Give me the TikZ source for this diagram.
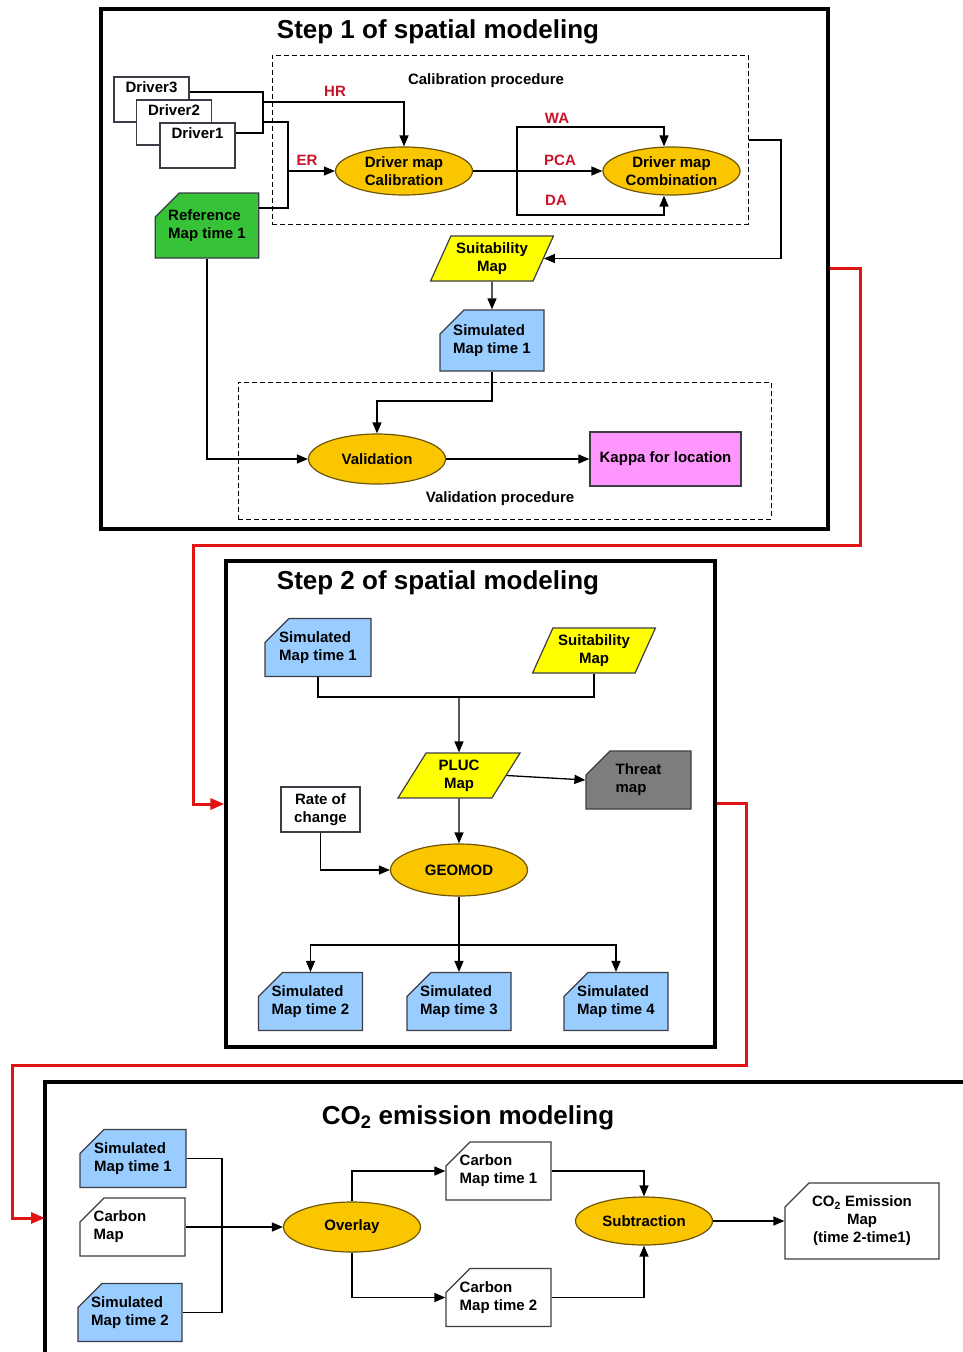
\documentclass[tikz,border=0pt]{standalone}
\usepackage{fontspec}
\setmainfont{Liberation Sans}
\usetikzlibrary{arrows.meta,shapes.geometric,shapes.misc}
\definecolor{ovalgold}{RGB}{250,198,0}
\definecolor{ovaledge}{RGB}{110,85,10}
\definecolor{suityellow}{RGB}{255,255,0}
\definecolor{simblue}{RGB}{153,204,255}
\definecolor{refgreen}{RGB}{55,195,55}
\definecolor{kappapink}{RGB}{255,150,255}
\definecolor{threatgray}{RGB}{125,125,125}
\definecolor{linkred}{RGB}{225,20,20}
\definecolor{labelred}{RGB}{200,20,40}
\definecolor{shapeedge}{RGB}{60,60,70}

\begin{document}
\begin{tikzpicture}[x=1pt, y=-1pt,
  txt/.style={font=\fontsize{15}{18}\selectfont\bfseries},
  title/.style={font=\fontsize{26}{30}\selectfont\bfseries},
  lbl/.style={txt, text=labelred},
  line/.style={line width=1.3pt},
  arr/.style={line, -{Triangle[length=11pt,width=9pt]}},
  redarr/.style={line width=3pt, draw=linkred, -{Triangle[length=14pt,width=11pt]}},
  frame/.style={draw, line width=3.2pt},
  procbox/.style={draw, line width=1pt, dash pattern=on 5pt off 3pt},
  mapbox/.style={txt, chamfered rectangle, chamfered rectangle corners=north west,
    chamfered rectangle sep=12pt, draw=shapeedge, line width=1.2pt, align=left, inner sep=1pt},
  oval/.style={txt, ellipse, draw=ovaledge, fill=ovalgold, line width=1.2pt,
    minimum width=137pt, minimum height=48pt, inner sep=0pt, align=center},
  para/.style={txt, trapezium, trapezium left angle=61, trapezium right angle=119,
    trapezium stretches=true, draw=shapeedge, fill=suityellow, line width=1.2pt,
    minimum width=123pt, minimum height=45pt, inner sep=0pt, align=center},
  drvbox/.style={txt, draw=shapeedge, fill=white, line width=1.2pt, minimum width=75pt,
    text height=11pt, text depth=26pt, inner ysep=4pt}
]
  \useasboundingbox (0,0) rectangle (963,1352);

  % ---------- step 1 ----------
  \node[frame, minimum width=727pt, minimum height=520pt] (step1) at (464.5,269) {};
  \node[title] (t1) at (438,32) {Step 1 of spatial modeling};
  \node[procbox, minimum width=476pt, minimum height=169pt] (calbox) at (510,139.5) {};
  \node[txt] (caltxt) at (486,81) {Calibration procedure};

  \node[drvbox] (d3) at (151.5,99.5) {Driver3};
  \node[drvbox] (d2) at (174,122.5) {Driver2};
  \node[drvbox] (d1) at (197.5,145.5) {Driver1};
  \node[mapbox, fill=refgreen, minimum width=98pt, minimum height=65pt] (ref) at (207,225.5) {Reference\\Map time 1};

  \node[oval] (calib) at (404,171) {Driver map\\Calibration};
  \node[oval] (comb) at (671.5,171) {Driver map\\Combination};
  \node[para] (suit) at (492,258.5) {Suitability\\Map};
  \node[mapbox, fill=simblue, minimum width=104pt, minimum height=61pt] (sim1) at (492,340.5) {Simulated\\Map time 1};

  \node[procbox, minimum width=533pt, minimum height=137pt] (valbox) at (504.5,450.5) {};
  \node[txt] (valtxt) at (500,499) {Validation procedure};
  \node[oval, minimum height=50pt] (valid) at (377,459) {Validation};
  \node[txt, draw=shapeedge, fill=kappapink, line width=1.2pt, minimum width=151pt, minimum height=54pt] (kappa) at (665.5,459) {Kappa for location};

  \coordinate (hrjoin) at (263,102);
  \coordinate (erjoin) at (288,171);
  \coordinate (wa) at (664,127);
  \coordinate (da) at (664,215);
  \coordinate (pcafork) at (517,171);

  \draw[line] ([yshift=7.5pt]d3.east) -| (263,133) -- (d1.east |- 0,133);
  \draw[arr] (hrjoin) -| (calib.north);
  \draw[line] (263,122) -| (288,208) -- (ref.east |- 0,208);
  \draw[arr] (erjoin) -- (calib.west);
  \draw[arr] (calib.east) -- (comb.west);
  \draw[arr] (pcafork) |- (wa) -- (wa |- comb.north);
  \draw[arr] (pcafork) |- (da) -- (da |- comb.south);
  \draw[arr] (calbox.east |- 0,140) -- (781,140) |- (suit.east);
  \draw[arr] (suit.south) -- (sim1.north);
  \draw[arr] (sim1.south) -- (492,401) -| (valid.north);
  \draw[arr] (ref.south) |- (valid.west);
  \draw[arr] (valid.east) -- (kappa.west);

  \node[lbl] at (335,91) {HR};
  \node[lbl] at (307,160) {ER};
  \node[lbl] at (557,118) {WA};
  \node[lbl] at (560,160) {PCA};
  \node[lbl] at (556,200) {DA};

  % ---------- step 2 ----------
  \node[frame, minimum width=489pt, minimum height=486pt] (step2) at (470.5,804) {};
  \node[title] (t2) at (438,583) {Step 2 of spatial modeling};

  \node[mapbox, fill=simblue, minimum width=106pt, minimum height=51pt] (s2sim1) at (318,647.5) {Simulated\\Map time 1};
  \node[para] (s2suit) at (594,650.5) {Suitability\\Map};
  \node[para] (pluc) at (459,775.5) {PLUC\\Map};
  \node[mapbox, fill=threatgray, minimum width=105pt, minimum height=54pt] (threat) at (638.5,780) {Threat\\map};
  \node[txt, draw=shapeedge, fill=white, line width=1.2pt, minimum width=79pt, minimum height=45pt, align=center, inner sep=1pt] (rate) at (320.5,809.5) {Rate of\\change};
  \node[oval, minimum height=52pt] (geomod) at (459,870) {GEOMOD};
  \node[mapbox, fill=simblue, minimum width=104pt, minimum height=53pt] (s2t2) at (310.5,1001.5) {Simulated\\Map time 2};
  \node[mapbox, fill=simblue, minimum width=104pt, minimum height=53pt] (s2t3) at (459,1001.5) {Simulated\\Map time 3};
  \node[mapbox, fill=simblue, minimum width=104pt, minimum height=53pt] (s2t4) at (616,1001.5) {Simulated\\Map time 4};

  \coordinate (s2join) at (459,697);
  \coordinate (fork) at (459,945);
  \draw[line] (s2sim1.south) |- (s2join) -| (s2suit.south);
  \draw[arr] (s2join) -- (pluc.north);
  \draw[arr] (pluc.east) -- (threat.west);
  \draw[arr] (pluc.south) -- (geomod.north);
  \draw[arr] (rate.south) |- (geomod.west);
  \draw[line] (geomod.south) -- (fork);
  \draw[arr] (fork) -| (s2t2.north);
  \draw[arr] (fork) -- (s2t3.north);
  \draw[arr] (fork) -| (s2t4.north);

  % ---------- CO2 ----------
  \draw[line width=3.2pt] (970,1082) -- (45,1082) -- (45,1360);
  \coordinate (co2in) at (45,1218);
  \node[title] (t3) at (468,1118) {CO\textsubscript{2} emission modeling};

  \node[mapbox, fill=simblue, minimum width=106pt, minimum height=47pt] (csim1) at (133,1158.5) {Simulated\\Map time 1};
  \node[mapbox, fill=white, minimum width=105pt, minimum height=50pt] (carbon) at (132.5,1227) {Carbon\\Map\phantom{ time 1}};
  \node[mapbox, fill=simblue, minimum width=104pt, minimum height=49pt] (csim2) at (130,1312.5) {Simulated\\Map time 2};
  \node[oval, minimum height=50pt] (overlay) at (352,1227) {Overlay};
  \node[mapbox, fill=white, minimum width=105pt, minimum height=48pt] (ct1) at (498.5,1171) {Carbon\\Map time 1};
  \node[mapbox, fill=white, minimum width=105pt, minimum height=49pt] (ct2) at (498.5,1297.5) {Carbon\\Map time 2};
  \node[oval] (subtr) at (644,1221) {Subtraction};
  \node[mapbox, fill=white, minimum width=154pt, minimum height=72pt, align=center] (emis) at (862,1221) {CO\textsubscript{2} Emission\\Map\\(time 2-time1)};

  \coordinate (cbus) at (222,1227);
  \draw[line] (csim1.east) -| (cbus) |- (csim2.east);
  \draw[arr] (carbon.east) -- (overlay.west);
  \draw[arr] (overlay.north) |- (ct1.west);
  \draw[arr] (overlay.south) |- (ct2.west);
  \draw[arr] (ct1.east) -| (subtr.north);
  \draw[arr] (ct2.east) -| (subtr.south);
  \draw[arr] (subtr.east) -- (emis.west);

  % ---------- red links ----------
  \draw[redarr] (step1.east |- 0,268) -- (860,268) -- (860,545) -- (193,545) |- (step2.west);
  \draw[redarr] (step2.east |- 0,803) -- (746,803) -- (746,1065) -- (12,1065) |- (co2in);
\end{tikzpicture}
\end{document}
